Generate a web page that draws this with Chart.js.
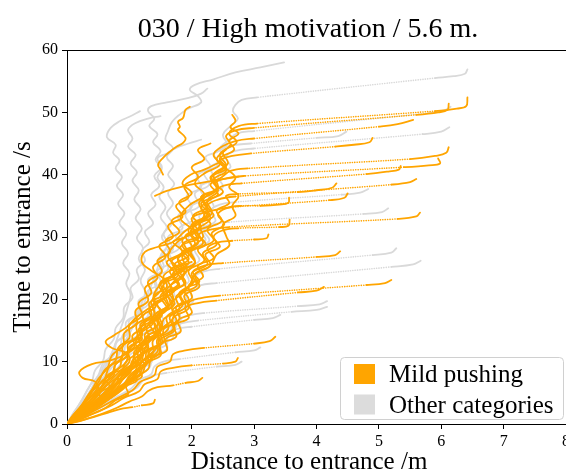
<!DOCTYPE html>
<html>
<head>
<meta charset="utf-8">
<script src="https://cdn.jsdelivr.net/npm/chart.js@4.4.1/dist/chart.umd.min.js"></script>
<style>
  html, body { margin: 0; padding: 0; background: #fff; }
  canvas { display: block; }
</style>
</head>
<body>
<canvas id="trackChart" width="566" height="472"></canvas>
<script>
const titleText = "030 / High motivation / 5.6 m.";
const xLabel = "Distance to entrance /m";
const yLabel = "Time to entrance /s";
const categories = ["Mild pushing", "Other categories"];
const xTicks = [0, 1, 2, 3, 4, 5, 6, 7, 8];
const yTicks = [0, 10, 20, 30, 40, 50, 60];

// [distance m, time s] pairs. "far" is the solid stub where a track starts,
// the gap from its last point to the first "near" point is drawn dotted.
const mildFar = [
  [[6.42,52.4],[6.40,51.0],[6.25,50.6],[5.9,50.2]],
  [[6.12,51.4],[6.10,50.4],[5.95,50.0],[5.6,49.6]],
  [[5.55,48.8],[5.3,48.1],[5.0,47.7]],
  [[4.9,45.9],[4.85,45.2],[4.6,44.8],[4.3,44.5]],
  [[6.12,44.4],[6.08,43.5],[5.9,43.0],[5.5,42.5]],
  [[5.95,42.6],[5.98,41.8],[5.8,41.5],[5.4,41.2]],
  [[5.35,41.4],[5.32,40.8],[5.15,40.5],[4.8,40.1]],
  [[5.6,39.3],[5.5,38.8],[5.2,38.4]],
  [[4.32,38.6],[4.25,37.9],[4.0,37.5],[3.7,37.2]],
  [[4.5,37.0],[4.45,36.3],[4.2,35.9]],
  [[3.56,36.3],[3.55,35.5],[3.4,35.2],[3.1,35.0]],
  [[5.66,33.9],[5.6,33.3],[5.3,32.9]],
  [[3.57,32.8],[3.55,31.8],[3.4,31.6]],
  [[3.23,30.4],[3.2,29.8],[3.0,29.6]],
  [[4.38,27.7],[4.3,27.1],[4.0,26.8]],
  [[5.2,23.1],[5.1,22.6],[4.8,22.3]],
  [[4.12,22.0],[4.0,21.4],[3.7,21.1]],
  [[3.34,14.0],[3.25,13.3],[3.0,12.9]],
  [[2.74,10.6],[2.7,10.0],[2.5,9.7]],
  [[2.17,7.4],[2.1,6.9],[1.9,6.6]],
  [[1.41,3.9],[1.38,3.3],[1.2,3.0]]
];
const mildNear = [
  [[3.05,48.2],[2.75,47.8],[2.6,46.6],[2.72,45.2],[2.5,43.6],[2.58,41.8],[2.35,40],[2.42,38],[2.18,36],[2.26,33.8],[2.02,31.6],[2.1,29.2],[1.85,27],[1.92,24.6],[1.66,22.2],[1.7,19.8],[1.45,17.4],[1.48,15],[1.22,12.6],[1.2,10.2],[0.95,8],[0.8,5.8],[0.55,3.6],[0.28,1.6],[0,0]],
  [[3.0,47.5],[2.7,47.1],[2.55,46.2],[2.62,44.8],[2.45,43.2],[2.55,41.4],[2.3,39.6],[2.4,37.6],[2.12,35.6],[2.2,33.4],[1.95,31.2],[2.05,28.8],[1.78,26.5],[1.88,24],[1.6,21.6],[1.65,19.2],[1.4,16.8],[1.42,14.4],[1.15,12],[1.12,9.8],[0.88,7.6],[0.72,5.4],[0.5,3.3],[0.25,1.4],[0,0]],
  [[3.0,45.8],[2.7,45.4],[2.5,44.6],[2.35,43.2],[2.45,41.6],[2.2,40.2],[2.05,38.6],[2.2,36.8],[1.95,35],[1.82,33],[2.0,31],[1.75,29],[1.62,26.8],[1.8,24.6],[1.5,22.4],[1.38,20],[1.52,17.8],[1.25,15.4],[1.1,13],[1.2,10.8],[0.9,8.6],[0.72,6.4],[0.52,4.2],[0.3,2.2],[0.1,0.6],[0,0]],
  [[2.95,43.4],[2.65,43.0],[2.45,42.2],[2.55,40.6],[2.35,39.2],[2.42,37.4],[2.25,35.8],[2.32,33.8],[2.12,32],[2.18,30],[1.98,28],[2.05,25.8],[1.85,23.8],[1.9,21.6],[1.68,19.4],[1.7,17],[1.48,14.8],[1.45,12.4],[1.22,10.2],[1.1,8],[0.88,6],[0.65,4],[0.4,2.2],[0.18,0.8],[0,0]],
  [[2.9,41.0],[2.62,40.6],[2.48,39.6],[2.3,38.4],[2.42,36.8],[2.15,35.4],[2.28,33.6],[2.0,32],[2.12,30],[1.82,28.4],[1.95,26.4],[1.65,24.6],[1.78,22.4],[1.5,20.6],[1.6,18.4],[1.32,16.4],[1.4,14.2],[1.12,12.2],[1.15,10],[0.9,8],[0.78,6],[0.55,4],[0.35,2.2],[0.15,0.8],[0,0]],
  [[2.85,39.8],[2.55,39.4],[2.38,38.6],[2.5,37.2],[2.3,36],[2.15,34.6],[2.3,33],[2.1,31.4],[1.9,30],[1.7,29.2],[1.85,27.6],[1.6,26],[1.72,24.2],[1.48,22.4],[1.55,20.4],[1.32,18.4],[1.38,16.2],[1.15,14.2],[1.18,12],[0.95,10],[0.85,8],[0.62,6],[0.45,4],[0.25,2],[0,0]],
  [[2.8,38.6],[2.5,38.2],[2.35,37.2],[2.15,36.4],[2.25,34.8],[2.02,33.4],[2.15,31.6],[1.9,30.2],[2.0,28.4],[1.78,26.8],[1.88,24.8],[1.62,23.2],[1.7,21.2],[1.45,19.4],[1.52,17.4],[1.28,15.6],[1.32,13.4],[1.08,11.6],[1.1,9.6],[0.85,7.8],[0.68,5.8],[0.48,3.8],[0.28,2],[0.1,0.6],[0,0]],
  [[2.7,36.5],[2.42,36.0],[2.25,35.0],[2.35,33.4],[2.12,32.2],[1.98,30.8],[2.1,29],[1.85,27.6],[1.95,25.8],[1.7,24.2],[1.8,22.2],[1.55,20.6],[1.62,18.6],[1.4,16.8],[1.45,14.8],[1.2,13],[1.22,11],[1.0,9.2],[0.92,7.4],[0.7,5.6],[0.52,3.8],[0.3,2],[0.12,0.7],[0,0]],
  [[2.75,36.9],[2.55,36.6],[2.6,35.4],[2.4,34.2],[2.48,32.6],[2.25,31.2],[2.35,29.4],[2.1,28],[2.2,26.2],[1.95,24.6],[2.02,22.6],[1.8,21],[1.85,19],[1.6,17.2],[1.62,15.2],[1.38,13.4],[1.38,11.4],[1.15,9.6],[1.05,7.6],[0.82,5.8],[0.6,4],[0.38,2.2],[0.15,0.8],[0,0]],
  [[2.65,34.8],[2.4,34.4],[2.2,33.6],[2.3,32],[2.08,30.8],[2.18,29],[1.95,27.6],[2.05,25.8],[1.78,24.4],[1.88,22.4],[1.6,21],[1.7,19],[1.45,17.4],[1.5,15.4],[1.25,13.8],[1.28,11.8],[1.05,10.2],[1.0,8.2],[0.78,6.4],[0.6,4.6],[0.4,2.8],[0.2,1.2],[0,0]],
  [[2.8,35.0],[2.55,34.6],[2.42,33.6],[2.52,32],[2.32,30.6],[2.4,28.8],[2.18,27.4],[2.25,25.6],[2.0,24.2],[2.08,22.2],[1.82,20.8],[1.9,18.8],[1.65,17.2],[1.7,15.2],[1.45,13.6],[1.45,11.6],[1.2,10],[1.12,8],[0.9,6.2],[0.68,4.4],[0.45,2.6],[0.2,1],[0,0]],
  [[2.6,31.6],[2.3,31.2],[2.12,30.4],[2.22,28.8],[1.98,27.6],[2.05,25.8],[1.82,24.4],[1.9,22.6],[1.65,21.2],[1.72,19.2],[1.48,17.6],[1.52,15.6],[1.28,14],[1.3,12],[1.08,10.4],[1.02,8.4],[0.8,6.6],[0.62,4.8],[0.42,3],[0.2,1.3],[0,0]],
  [[2.75,31.4],[2.48,31.0],[2.35,30],[2.45,28.4],[2.22,27.2],[2.3,25.4],[2.05,24],[2.12,22],[1.88,20.6],[1.95,18.6],[1.7,17],[1.72,15],[1.48,13.4],[1.48,11.4],[1.25,9.8],[1.15,7.8],[0.92,6],[0.7,4.2],[0.45,2.4],[0.2,1],[0,0]],
  [[2.65,29.4],[2.4,29.1],[2.25,28.2],[2.35,26.6],[2.1,25.4],[2.18,23.6],[1.95,22.2],[2.0,20.2],[1.75,18.8],[1.8,16.8],[1.55,15.2],[1.55,13.2],[1.32,11.6],[1.28,9.6],[1.05,8],[0.9,6.2],[0.68,4.4],[0.45,2.6],[0.2,1],[0,0]],
  [[2.5,25.8],[2.2,25.4],[2.02,24.4],[2.12,22.8],[1.88,21.6],[1.95,19.8],[1.7,18.4],[1.75,16.4],[1.5,15],[1.52,13],[1.28,11.6],[1.25,9.6],[1.02,8],[0.9,6.2],[0.68,4.4],[0.45,2.6],[0.2,1],[0,0]],
  [[2.45,20.6],[2.15,20.2],[1.95,19.4],[2.0,17.8],[1.78,16.6],[1.82,14.8],[1.58,13.6],[1.6,11.8],[1.35,10.6],[1.3,8.8],[1.08,7.4],[0.9,5.6],[0.68,4],[0.42,2.4],[0.2,1],[0,0]],
  [[2.4,19.8],[2.1,19.4],[1.9,18.6],[1.95,17],[1.72,15.8],[1.75,14],[1.5,12.8],[1.5,11],[1.28,9.8],[1.2,8],[0.98,6.6],[0.8,5],[0.58,3.5],[0.35,2],[0.15,0.7],[0,0]],
  [[2.2,12.2],[1.9,11.8],[1.7,11.2],[1.65,10],[1.45,9.2],[1.4,7.8],[1.18,6.8],[1.05,5.4],[0.82,4.2],[0.6,3],[0.38,1.8],[0.15,0.6],[0,0]],
  [[2.0,9.4],[1.7,9.0],[1.5,8.4],[1.45,7.2],[1.25,6.4],[1.15,5.2],[0.92,4.2],[0.72,3],[0.48,1.9],[0.22,0.8],[0,0]],
  [[1.7,6.2],[1.45,5.9],[1.3,5.3],[1.2,4.4],[1.0,3.6],[0.8,2.6],[0.55,1.6],[0.3,0.8],[0,0]],
  [[1.05,2.7],[0.85,2.4],[0.65,1.8],[0.45,1.2],[0.22,0.5],[0,0]]
];
// tracks that stay inside the crowd, no dotted stretch
const mildLoose = [
  [[2.65,49.6],[2.7,48.6],[2.62,47.6],[2.75,46.6],[2.6,45.4],[2.68,44],[2.45,42.6],[2.55,41],[2.32,39.6],[2.4,37.8],[2.15,36.4],[2.25,34.4],[2.0,33],[2.08,31],[1.85,29.6],[1.92,27.6],[1.68,26.2],[1.75,24.2],[1.5,22.8],[1.55,20.8],[1.32,19.4],[1.35,17.4],[1.12,16],[1.12,14],[0.9,12.6],[0.88,10.6],[0.68,9.2],[0.6,7.2],[0.42,5.4],[0.3,3.4],[0.15,1.6],[0,0]],
  [[1.97,50.9],[1.9,50.4],[1.86,49.1],[1.78,48.5],[1.81,47.7],[1.78,47.2],[1.9,45.9],[1.86,45.1],[1.76,44.5],[1.65,43.7],[1.54,42.7],[1.46,41.6],[1.5,40.8],[1.54,40.0]],
  [[1.41,36.6],[1.6,37.4],[1.85,38.1],[2.15,38.7],[2.45,39.2],[2.75,39.7]],
  [[1.3,14],[1.0,11.5],[0.7,10.2],[0.4,9.6],[0.2,8.4],[0.25,7.4],[0.45,6.8],[0.5,5.5],[0.35,3.5],[0.2,1.8],[0,0]],
  [[1.8,22],[1.55,20],[1.3,18.5],[1.1,17],[0.95,15.5],[0.75,14.2],[0.62,13.2],[0.72,12.2],[0.95,11.4],[1.0,10],[0.85,8.5],[0.7,7],[0.5,5],[0.3,3],[0.12,1.2],[0,0]],
  [[2.2,33],[1.9,31],[1.7,29.2],[1.45,28.4],[1.25,27.6],[1.2,26],[1.35,24.6],[1.55,23.2],[1.5,21.4],[1.35,19.6],[1.4,17.6],[1.2,15.8],[1.18,13.8],[1.0,12],[0.95,10],[0.75,8.2],[0.58,6.2],[0.4,4.2],[0.2,2],[0,0]],
  [[2.55,44],[2.4,42.5],[2.55,41],[2.7,39.5],[2.6,38],[2.75,36.6],[2.65,35],[2.7,33.4],[2.5,32],[2.55,30.2],[2.6,28.6],[2.4,27.2],[2.3,25.4],[2.05,24],[1.95,22],[1.75,20.4],[1.8,18.4],[1.55,16.8],[1.5,14.8],[1.3,13],[1.2,11],[1.0,9.2],[0.85,7.2],[0.62,5.2],[0.42,3.4],[0.2,1.6],[0,0]],
  [[2.3,45],[2.1,44],[2.2,42.5],[2.0,41.2],[2.1,39.6],[1.88,38.2],[1.95,36.4],[1.75,35],[1.85,33.2],[1.62,31.8],[1.7,30],[1.48,28.6],[1.58,26.8],[1.38,25.2],[1.45,23.4],[1.25,21.8],[1.3,19.8],[1.1,18.2],[1.12,16.2],[0.92,14.6],[0.9,12.6],[0.72,11],[0.65,9],[0.5,7.2],[0.38,5.2],[0.25,3.2],[0.1,1.4],[0,0]],
  [[2.45,42],[2.2,40.8],[1.98,40],[1.85,38.6],[2.0,37],[1.8,35.6],[1.9,34],[1.68,32.6],[1.8,30.8],[1.58,29.4],[1.65,27.6],[1.45,26.2],[1.52,24.4],[1.3,22.8],[1.35,21],[1.15,19.4],[1.2,17.4],[1.0,15.8],[1.0,13.8],[0.82,12.2],[0.78,10.2],[0.6,8.6],[0.5,6.6],[0.35,4.8],[0.22,2.8],[0.08,1.2],[0,0]],
  [[1.6,16],[1.45,14.5],[1.5,13],[1.3,11.8],[1.35,10.2],[1.15,9],[1.2,7.6],[1.0,6.6],[0.85,5.4],[0.68,4.2],[0.5,3],[0.3,1.8],[0.12,0.7],[0,0]],
  [[1.9,25],[1.7,23.6],[1.8,22],[1.58,20.8],[1.62,19],[1.42,17.6],[1.45,15.8],[1.25,14.4],[1.28,12.6],[1.08,11.2],[1.05,9.4],[0.85,8],[0.78,6.2],[0.58,4.8],[0.42,3.2],[0.25,1.8],[0.1,0.7],[0,0]],
  [[1.5,18],[1.35,16.5],[1.15,15.2],[1.2,13.6],[1.0,12.4],[0.95,10.8],[0.78,9.6],[0.72,8],[0.55,6.8],[0.45,5.2],[0.3,3.6],[0.15,1.8],[0,0]],
  [[2.0,26],[1.75,25],[1.55,23.8],[1.6,22],[1.4,20.6],[1.42,18.8],[1.22,17.4],[1.25,15.6],[1.05,14.2],[1.08,12.4],[0.88,11],[0.85,9.2],[0.65,7.8],[0.55,6],[0.38,4.4],[0.22,2.6],[0.08,1],[0,0]],
  [[1.3,12],[1.15,10.8],[1.25,9.4],[1.08,8.4],[1.12,7],[0.95,6],[0.98,4.8],[0.78,3.8],[0.62,2.6],[0.4,1.6],[0.18,0.6],[0,0]],
  [[1.15,9.5],[0.95,8.8],[0.75,8.2],[0.62,7.2],[0.68,6],[0.52,5],[0.55,3.8],[0.38,2.8],[0.25,1.6],[0.1,0.6],[0,0]],
  [[2.1,30],[1.85,28.8],[1.95,27],[1.72,25.6],[1.78,23.8],[1.55,22.4],[1.6,20.6],[1.38,19.2],[1.4,17.4],[1.18,16],[1.2,14.2],[0.98,12.8],[0.98,11],[0.78,9.6],[0.75,7.8],[0.58,6.4],[0.5,4.8],[0.35,3.2],[0.2,1.8],[0.06,0.6],[0,0]]
];

const otherFar = [
  [[6.42,56.9],[6.38,56.2],[6.2,55.8],[5.9,55.5]],
  [[6.15,50.9],[6.05,50.3],[5.8,49.9]],
  [[6.13,47.6],[6.0,46.9],[5.7,46.5]],
  [[4.48,46.9],[4.35,46.2],[4.0,45.9]],
  [[4.83,37.7],[4.7,37.1],[4.4,36.8]],
  [[5.15,34.6],[5.05,34.0],[4.75,33.7]],
  [[5.28,28.2],[5.2,27.5],[4.9,27.1]],
  [[5.67,26.2],[5.55,25.6],[5.2,25.2]],
  [[4.17,19.7],[4.05,19.2],[3.7,18.9]],
  [[4.17,18.8],[4.0,18.3],[3.6,18.0]],
  [[3.1,12.3],[3.0,11.8],[2.7,11.5]],
  [[2.8,10.0],[2.7,9.5],[2.4,9.2]],
  [[3.42,17.5],[3.3,17.0],[3.0,16.7]]
];
const otherNear = [
  [[3.05,52.4],[2.8,52.0],[2.7,51.2],[2.66,50.2],[2.74,49.0],[2.62,47.8],[2.5,46.4],[2.56,44.8],[2.36,43.4],[2.42,41.6],[2.2,40.2],[2.28,38.4],[2.05,37],[2.12,35],[1.9,33.6],[1.98,31.6],[1.75,30.2],[1.8,28.2],[1.58,26.8],[1.62,24.8],[1.4,23.4],[1.42,21.4],[1.2,20],[1.2,18],[1.0,16.6],[0.98,14.6],[0.8,13.2],[0.75,11.2],[0.58,9.8],[0.5,7.8],[0.36,6],[0.25,4],[0.12,2],[0,0]],
  [[3.0,47.0],[2.72,46.6],[2.6,45.6],[2.45,44.2],[2.52,42.6],[2.3,41.2],[2.35,39.4],[2.12,38],[2.2,36.2],[1.98,34.8],[2.02,32.8],[1.8,31.4],[1.85,29.4],[1.62,28],[1.68,26],[1.45,24.6],[1.5,22.6],[1.28,21.2],[1.3,19.2],[1.1,17.8],[1.08,15.8],[0.9,14.4],[0.85,12.4],[0.7,11],[0.62,9],[0.48,7.4],[0.38,5.4],[0.25,3.6],[0.12,1.8],[0,0]],
  [[3.0,44.2],[2.7,43.8],[2.55,42.8],[2.62,41.2],[2.42,39.8],[2.5,38],[2.28,36.6],[2.35,34.8],[2.12,33.4],[2.2,31.4],[1.95,30],[2.0,28],[1.78,26.6],[1.82,24.6],[1.6,23.2],[1.62,21.2],[1.4,19.8],[1.4,17.8],[1.18,16.4],[1.15,14.4],[0.95,13],[0.9,11],[0.72,9.6],[0.62,7.6],[0.46,5.8],[0.32,3.8],[0.15,1.8],[0,0]],
  [[2.95,45.0],[2.6,44.6],[2.4,43.6],[2.22,42.8],[2.3,41.2],[2.08,39.8],[2.15,38],[1.92,36.6],[2.0,34.8],[1.78,33.4],[1.85,31.4],[1.62,30],[1.7,28],[1.48,26.6],[1.52,24.6],[1.3,23.2],[1.35,21.2],[1.15,19.8],[1.15,17.8],[0.95,16.4],[0.95,14.4],[0.78,13],[0.75,11],[0.6,9.6],[0.52,7.6],[0.4,5.8],[0.28,3.8],[0.12,1.8],[0,0]],
  [[2.7,35.6],[2.45,35.2],[2.3,34.2],[2.38,32.6],[2.15,31.2],[2.22,29.4],[2.0,28],[2.05,26],[1.82,24.6],[1.88,22.6],[1.65,21.2],[1.68,19.2],[1.45,17.8],[1.45,15.8],[1.22,14.4],[1.2,12.4],[1.0,11],[0.92,9],[0.75,7.4],[0.58,5.6],[0.4,3.6],[0.2,1.8],[0,0]],
  [[2.6,32.4],[2.35,32.0],[2.2,31],[2.28,29.4],[2.05,28],[2.12,26.2],[1.9,24.8],[1.95,22.8],[1.72,21.4],[1.75,19.4],[1.52,18],[1.55,16],[1.32,14.6],[1.3,12.6],[1.1,11.2],[1.02,9.2],[0.82,7.6],[0.65,5.8],[0.45,3.8],[0.22,1.8],[0,0]],
  [[2.45,24.9],[2.2,24.5],[2.05,23.6],[2.12,22],[1.9,20.8],[1.95,19],[1.72,17.6],[1.75,15.6],[1.52,14.2],[1.5,12.2],[1.28,10.8],[1.22,8.8],[1.0,7.4],[0.82,5.6],[0.58,3.8],[0.32,2],[0.12,0.8],[0,0]],
  [[2.4,22.6],[2.12,22.2],[1.98,21.2],[2.02,19.6],[1.8,18.4],[1.82,16.6],[1.6,15.2],[1.6,13.4],[1.38,12],[1.35,10.2],[1.12,8.8],[1.0,7],[0.78,5.4],[0.55,3.6],[0.3,1.8],[0,0]],
  [[2.2,17.8],[1.95,17.4],[1.8,16.6],[1.82,15],[1.6,13.8],[1.6,12],[1.38,10.8],[1.32,9],[1.1,7.6],[0.92,6],[0.68,4.4],[0.42,2.6],[0.18,1],[0,0]],
  [[2.1,16.6],[1.85,16.2],[1.68,15.4],[1.7,13.8],[1.48,12.6],[1.45,10.8],[1.22,9.6],[1.15,7.8],[0.92,6.4],[0.72,4.8],[0.5,3.2],[0.25,1.6],[0,0]],
  [[1.8,10.4],[1.55,10.0],[1.4,9.2],[1.35,8],[1.15,7],[1.02,5.6],[0.8,4.4],[0.58,3],[0.32,1.6],[0.1,0.5],[0,0]],
  [[1.6,8.2],[1.38,7.8],[1.22,7.0],[1.12,5.8],[0.92,4.8],[0.72,3.6],[0.5,2.4],[0.25,1.1],[0,0]],
  [[2.0,15.6],[1.75,15.2],[1.6,14.4],[1.6,12.8],[1.38,11.6],[1.35,9.8],[1.12,8.6],[1.02,6.8],[0.8,5.4],[0.6,3.8],[0.35,2.2],[0.12,0.8],[0,0]]
];
const otherLoose = [
  [[1.17,50.2],[1.0,49.3],[0.85,48.6],[0.7,47.5],[0.64,46.0],[0.78,44.8],[0.74,43.5],[0.84,42.3],[0.78,41.0],[0.88,39.6],[0.8,38.2],[0.9,36.8],[0.82,35.3],[0.92,33.8],[0.84,32.2],[0.95,30.6],[0.88,29.0],[0.98,27.4],[0.9,25.8],[1.0,24.2],[0.95,22.5],[1.02,20.8],[0.98,19.0],[0.92,17],[0.85,15],[0.78,13],[0.7,11],[0.6,9],[0.5,7],[0.4,5],[0.25,3],[0.1,1],[0,0]],
  [[1.5,49.4],[1.3,49.0],[1.1,48.3],[0.98,47.2],[1.05,45.8],[0.98,44.5],[1.1,43.2],[1.02,41.8],[1.12,40.4],[1.05,39],[1.15,37.5],[1.08,36],[1.18,34.5],[1.1,33],[1.2,31.4],[1.12,29.8],[1.22,28.2],[1.15,26.5],[1.25,24.8],[1.18,23],[1.25,21.2],[1.2,19.4],[1.12,17.5],[1.05,15.5],[0.95,13.5],[0.85,11.5],[0.75,9.5],[0.6,7.5],[0.48,5.5],[0.35,3.5],[0.18,1.5],[0,0]],
  [[3.48,58.0],[3.1,57.2],[2.7,56.4],[2.35,55.3],[2.05,54.4],[1.97,53.6],[2.1,52.6],[2.15,51.6],[1.95,50.6],[1.8,49.6],[1.68,48.4],[1.62,47.0],[1.58,45.6],[1.7,44.2],[1.6,42.8],[1.7,41.4],[1.62,40],[1.72,38.5],[1.62,37],[1.7,35.4],[1.6,33.8],[1.68,32.2],[1.55,30.5],[1.62,28.8],[1.5,27],[1.55,25.2],[1.42,23.4],[1.45,21.5],[1.35,19.5],[1.3,17.5],[1.2,15.5],[1.1,13.5],[0.98,11.5],[0.85,9.5],[0.7,7.5],[0.55,5.5],[0.4,3.5],[0.2,1.5],[0,0]],
  [[2.25,53.8],[2.15,53.0],[1.95,52.3],[1.6,51.6],[1.35,51.0],[1.3,50.2],[1.4,49.0],[1.32,47.8],[1.45,46.5],[1.38,45.2],[1.5,43.8],[1.42,42.4],[1.52,41],[1.45,39.5],[1.55,38],[1.48,36.4],[1.58,34.8],[1.5,33.2],[1.6,31.6],[1.52,30],[1.6,28.4],[1.5,26.8],[1.45,25],[1.38,23],[1.3,21],[1.22,19],[1.12,17],[1.02,15],[0.92,13],[0.8,11],[0.68,9],[0.55,7],[0.42,5],[0.28,3],[0.12,1.2],[0,0]],
  [[2.15,45.6],[1.95,45.0],[1.75,44.3],[1.6,43.4],[1.45,42.6],[1.52,41.2],[1.4,39.8],[1.48,38.2],[1.35,36.8],[1.42,35.2],[1.3,33.8],[1.38,32.2],[1.25,30.8],[1.32,29.2],[1.2,27.8],[1.25,26.2],[1.12,24.8],[1.15,23.2],[1.02,21.8],[1.05,20.2],[0.92,18.8],[0.9,17],[0.78,15.4],[0.75,13.6],[0.62,12],[0.58,10.2],[0.45,8.6],[0.4,6.8],[0.3,5],[0.2,3.2],[0.08,1.4],[0,0]]
];

const mildColor = "#ffa500";
const otherColor = "#d9d9d9";
const serif = "'Liberation Serif', 'Times New Roman', serif";

function trackDataset(far, near, color) {
  const pts = far.concat(near).map(p => ({ x: p[0], y: p[1] }));
  const gap = far.length - 1; // segment far-end -> near-start is dotted
  return {
    data: pts,
    showLine: true,
    borderColor: color,
    borderWidth: 1.8,
    borderCapStyle: "round",
    borderJoinStyle: "round",
    pointRadius: 0,
    pointHoverRadius: 0,
    tension: 0.4,
    segment: {
      borderDash: ctx => (ctx.p0DataIndex === gap ? [0.1, 2.3] : undefined),
      borderWidth: ctx => (ctx.p0DataIndex === gap ? 1.6 : undefined)
    }
  };
}

const datasets = [];
// orange first so it is painted on top of the grey ones
mildFar.forEach((far, i) => datasets.push(trackDataset(far, mildNear[i], mildColor)));
mildLoose.forEach(t => datasets.push(trackDataset([], t, mildColor)));
otherFar.forEach((far, i) => datasets.push(trackDataset(far, otherNear[i], otherColor)));
otherLoose.forEach(t => datasets.push(trackDataset([], t, otherColor)));

// title, axis labels, top spine and the legend box
const decorations = {
  id: "decorations",
  afterDraw(chart) {
    const { ctx, chartArea } = chart;
    ctx.save();
    ctx.strokeStyle = "#000";
    ctx.lineWidth = 1;
    ctx.beginPath();
    ctx.moveTo(chartArea.left, chartArea.top + 0.5);
    ctx.lineTo(chartArea.right, chartArea.top + 0.5);
    ctx.stroke();

    ctx.fillStyle = "#000";
    ctx.textAlign = "center";
    ctx.textBaseline = "alphabetic";
    ctx.font = "28px " + serif;
    ctx.fillText(titleText, 308, 37);
    ctx.font = "25px " + serif;
    ctx.fillText(xLabel, 309, 469);

    ctx.save();
    ctx.translate(30, (chartArea.top + chartArea.bottom) / 2);
    ctx.rotate(-Math.PI / 2);
    ctx.fillText(yLabel, 0, 0);
    ctx.restore();

    // legend
    const lx = 340.5, ly = 357.5, lw = 223, lh = 62, r = 4;
    ctx.beginPath();
    ctx.moveTo(lx + r, ly);
    ctx.arcTo(lx + lw, ly, lx + lw, ly + lh, r);
    ctx.arcTo(lx + lw, ly + lh, lx, ly + lh, r);
    ctx.arcTo(lx, ly + lh, lx, ly, r);
    ctx.arcTo(lx, ly, lx + lw, ly, r);
    ctx.closePath();
    ctx.fillStyle = "rgba(255,255,255,0.8)";
    ctx.fill();
    ctx.strokeStyle = "#d0d0d0";
    ctx.stroke();

    const swatch = [mildColor, "#dcdcdc"];
    ctx.textAlign = "left";
    ctx.font = "25px " + serif;
    categories.forEach((name, i) => {
      const y = 364 + i * 30.5;
      ctx.fillStyle = swatch[i];
      ctx.fillRect(354, y, 21, 20);
      ctx.fillStyle = "#000";
      ctx.fillText(name, 389, y + 18);
    });
    ctx.restore();
  }
};

new Chart(document.getElementById("trackChart"), {
  type: "scatter",
  data: { datasets },
  options: {
    responsive: false,
    animation: false,
    devicePixelRatio: 1,
    layout: { padding: { top: 50, left: 0, right: 0, bottom: 0 } },
    plugins: {
      legend: { display: false },
      title: { display: false },
      tooltip: { enabled: false }
    },
    events: [],
    scales: {
      x: {
        type: "linear",
        min: 0,
        max: 8,
        afterBuildTicks: s => { s.ticks = xTicks.map(v => ({ value: v })); },
        afterFit: s => { s.height = 48; s.paddingRight = 0; s.paddingLeft = 0; },
        ticks: { color: "#000", font: { family: serif, size: 16 }, padding: 3, maxRotation: 0 },
        grid: { drawOnChartArea: false, drawTicks: true, tickLength: 5, color: "#000" },
        border: { display: true, color: "#000", width: 1 }
      },
      y: {
        type: "linear",
        min: 0,
        max: 60,
        afterBuildTicks: s => { s.ticks = yTicks.map(v => ({ value: v })); },
        afterFit: s => { s.width = 67; },
        ticks: { color: "#000", font: { family: serif, size: 16 }, padding: 4 },
        grid: { drawOnChartArea: false, drawTicks: true, tickLength: 5, color: "#000" },
        border: { display: true, color: "#000", width: 1 }
      }
    }
  },
  plugins: [decorations]
});
</script>
</body>
</html>
